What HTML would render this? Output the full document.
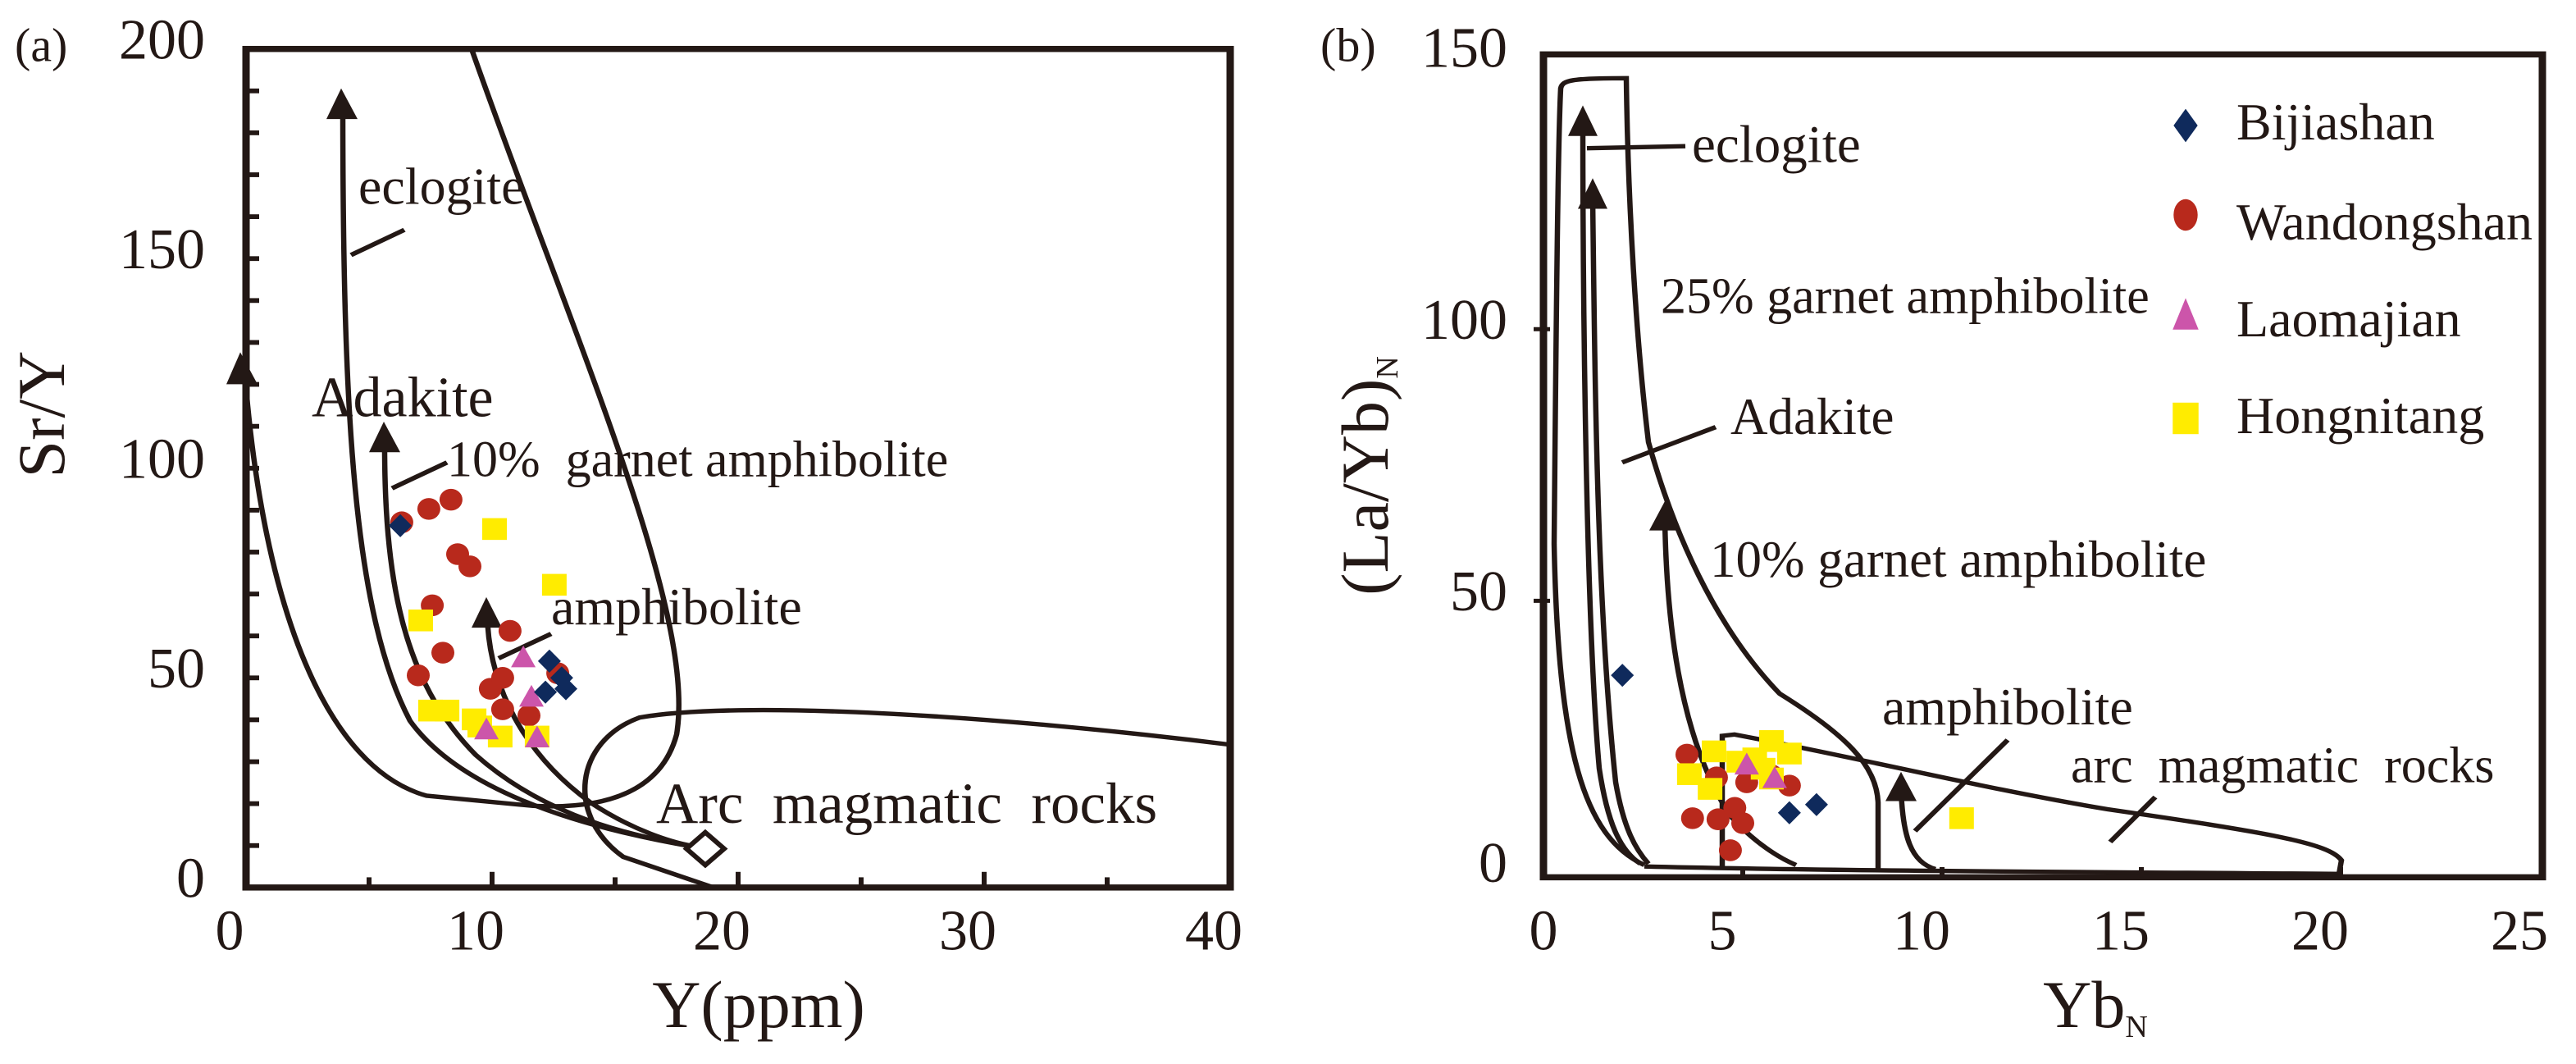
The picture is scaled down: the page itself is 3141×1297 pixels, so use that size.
<!DOCTYPE html>
<html><head><meta charset="utf-8"><style>
html,body{margin:0;padding:0;background:#fff;overflow:hidden;}
svg{display:block;font-family:"Liberation Serif",serif;}
</style></head><body>
<svg id="chart" width="3141" height="1297" viewBox="0 0 3141 1297" xmlns="http://www.w3.org/2000/svg">
<rect width="3141" height="1297" fill="#fff"/>
<g id="root" transform="scale(1,0.829)">
<!-- Panel (a) -->
<g id="pa" fill="none" stroke="#231815" stroke-width="6.5">
  <path d="M1500,1095 C1200,1050 900,1030 780,1055 C700,1090 690,1200 760,1260 L870,1305"/>
  <path d="M575,72 C700,500 850,900 825,1080 C805,1170 730,1190 650,1185 L520,1170 C400,1130 320,900 298,540"/>
  <path d="M418,150 C418,600 430,900 500,1060 C560,1160 700,1215 845,1245"/>
  <path d="M469,640 C468,850 490,1000 580,1110 C650,1185 740,1225 850,1245"/>
  <path d="M594,900 C595,1010 640,1110 720,1180 C770,1220 820,1240 850,1245"/>
  <path d="M428,375 L493,338"/>
  <path d="M478,718 L545,680"/>
  <path d="M608,968 L672,932"/>
  <g fill="#231815" stroke="none">
    <path d="M416,130 L398,175 L436,175 Z"/>
    <path d="M293,518 L276,565 L314,565 Z"/>
    <path d="M468,620 L450,665 L488,665 Z"/>
    <path d="M593,878 L575,923 L612,923 Z"/>
  </g>
  <path d="M860,1224 L883,1248 L860,1272 L837,1248 Z" fill="#fff"/>
  <rect x="300" y="72" width="1200" height="1233" stroke-width="9"/>
</g>
<g id="pa-pts"></g>
<g id="pa-axes" font-size="70" fill="#231815"></g>
<g fill="#231815">
  <text x="18" y="90" font-size="58">(a)</text>
  <text x="437" y="300" font-size="64">eclogite</text>
  <text x="380" y="612" font-size="70">Adakite</text>
  <text x="545" y="700" font-size="62" xml:space="preserve">10%  garnet amphibolite</text>
  <text x="672" y="918" font-size="64">amphibolite</text>
  <text x="800" y="1210" font-size="71" xml:space="preserve">Arc  magmatic  rocks</text>
  <text x="925" y="1510" font-size="82" text-anchor="middle">Y(ppm)</text>
</g>
<!-- Panel (b) -->
<g id="pb" fill="none" stroke="#231815" stroke-width="6.5">
  <path d="M2005,1272 C1930,1230 1900,1100 1895,800 C1898,400 1900,200 1903,130 C1905,118 1915,115 1983,115 C1985,300 1995,500 2010,650 C2040,780 2090,920 2170,1020 C2250,1080 2288,1125 2290,1180 L2290,1280"/>
  <path d="M2100,1278 L2100,1082 L2115,1080 C2270,1115 2420,1160 2570,1190 C2770,1225 2840,1240 2855,1265 L2852,1285 C2500,1282 2200,1280 2005,1274"/>
  <path d="M1930,180 C1930,400 1933,900 1950,1130 C1960,1210 1975,1250 2000,1270"/>
  <path d="M1942,290 C1945,600 1948,900 1970,1150 C1980,1220 1995,1250 2010,1270"/>
  <path d="M2030,765 C2032,900 2045,1080 2110,1200 C2140,1240 2170,1262 2190,1272"/>
  <path d="M2318,1160 C2320,1230 2330,1268 2360,1278"/>
  <path d="M1935,218 L2055,215"/>
  <path d="M1978,680 L2092,628"/>
  <path d="M2335,1222 L2448,1088"/>
  <path d="M2573,1238 L2628,1172"/>
  <g fill="#231815" stroke="none">
    <path d="M1930,155 L1912,200 L1948,200 Z"/>
    <path d="M1942,262 L1924,307 L1960,307 Z"/>
    <path d="M2030,737 L2011,780 L2049,780 Z"/>
    <path d="M2318,1135 L2299,1178 L2337,1178 Z"/>
  </g>
  <rect x="1882" y="80" width="1218" height="1210" stroke-width="9"/>
</g>
<g id="pb-pts"></g>
<g id="pb-axes" font-size="70" fill="#231815"></g>
<g fill="#231815">
  <text x="1610" y="90" font-size="58">(b)</text>
  <text x="2063" y="238" font-size="65">eclogite</text>
  <text x="2025" y="460" font-size="62">25% garnet amphibolite</text>
  <text x="2110" y="638" font-size="63">Adakite</text>
  <text x="2085" y="848" font-size="63">10% garnet amphibolite</text>
  <text x="2295" y="1065" font-size="64">amphibolite</text>
  <text x="2525" y="1150" font-size="62" xml:space="preserve">arc  magmatic  rocks</text>
  <text x="2555" y="1510" font-size="82" text-anchor="middle">Yb<tspan font-size="38" dy="12">N</tspan></text>
</g>
</g>
<text transform="translate(78,505) rotate(-90)" font-size="82" text-anchor="middle" fill="#231815">Sr/Y</text>
<text transform="translate(1692,580) rotate(-90)" font-size="82" text-anchor="middle" fill="#231815">(La/Yb)<tspan font-size="38" dy="12">N</tspan></text>
<g id="legend" font-size="64" fill="#231815"></g>
<script>
// ---------- data ----------
const aXTicks = [0, 10, 20, 30, 40];
const aYTicks = [0, 50, 100, 150, 200];
const bXTicks = [0, 5, 10, 15, 20, 25];
const bYTicks = [0, 50, 100, 150];
const seriesNames = ["Bijiashan", "Wandongshan", "Laomajian", "Hongnitang"];

const aBijiashanX = [6.27, 12.33, 12.17, 13.0, 12.83];
const aBijiashanY = [86.3, 54.0, 46.6, 47.4, 50.0];
const aWandongX = [6.33, 7.43, 8.33, 8.6, 9.1, 7.57, 8.0, 7.0, 9.93, 10.43, 10.73, 10.43, 11.5, 12.67];
const aWandongY = [87.1, 90.3, 92.5, 79.5, 76.6, 67.3, 56.0, 50.6, 47.4, 50.0, 61.2, 42.5, 41.0, 51.1];
const aLaomajianX = [11.27, 11.6, 9.77, 11.83];
const aLaomajianY = [54.8, 45.4, 37.6, 35.7];
const aHongX = [10.1, 12.53, 7.1, 7.5, 8.17, 9.27, 10.33, 11.83, 9.5];
const aHongY = [85.5, 72.2, 63.7, 42.2, 42.2, 40.1, 36.0, 36.0, 38.4];

const bBijiashanX = [1.98, 6.17, 6.85];
const bBijiashanY = [36.3, 11.0, 12.5];
const bWandongX = [3.6, 3.74, 4.34, 4.38, 4.8, 5.0, 4.69, 5.1, 6.17, 5.72];
const bWandongY = [21.7, 10.0, 17.5, 9.8, 11.9, 9.1, 4.1, 16.6, 16.0, 17.9];
const bLaomajianX = [5.1, 5.8];
const bLaomajianY = [19.8, 17.3];
const bHongX = [3.66, 4.28, 4.18, 4.9, 5.3, 5.72, 6.17, 5.51, 5.72, 10.49];
const bHongY = [18.1, 22.3, 15.4, 20.4, 21.0, 24.2, 21.9, 19.1, 17.3, 10.0];

// ---------- scales (inside vertically-scaled root group) ----------
const K = 0.829;
const ax = v => 300 + v * 30;
const ay = v => 1305 - v * 6.165;
const bx = v => 1882 + v * 48.6;
const by = v => 1283 - v * 7.99;
const NS = "http://www.w3.org/2000/svg";
function mk(tag, attrs, parent) {
  const e = document.createElementNS(NS, tag);
  for (const k in attrs) e.setAttribute(k, attrs[k]);
  parent.appendChild(e);
  return e;
}
function marker(kind, x, y, parent, s, sy) {
  let e;
  const t = sy || s;
  if (kind === 0) e = mk("path", {d: `M${x},${y-17*t} L${x+14*s},${y} L${x},${y+17*t} L${x-14*s},${y} Z`, fill: "#0f2a5c"}, parent);
  else if (kind === 1) e = mk("ellipse", {cx: x, cy: y, rx: 14*s, ry: 16*t, fill: "#b8291c"}, parent);
  else if (kind === 2) e = mk("path", {d: `M${x},${y-18*t} L${x+15*s},${y+14*t} L${x-15*s},${y+14*t} Z`, fill: "#cc55aa"}, parent);
  else e = mk("rect", {x: x-15*s, y: y-16*t, width: 30*s, height: 32*t, fill: "#ffec00"}, parent);
  return e;
}
function plotSeries(xs, ys, kind, sx, sy, parent) {
  for (let i = 0; i < xs.length; i++) {
    const m = marker(kind, sx(xs[i]), sy(ys[i]), parent, 1);
    
    
  }
}
const pa = document.getElementById("pa-pts");
plotSeries(aWandongX, aWandongY, 1, ax, ay, pa);
plotSeries(aHongX, aHongY, 3, ax, ay, pa);
plotSeries(aLaomajianX, aLaomajianY, 2, ax, ay, pa);
plotSeries(aBijiashanX, aBijiashanY, 0, ax, ay, pa);
const pb = document.getElementById("pb-pts");
plotSeries(bWandongX, bWandongY, 1, bx, by, pb);
plotSeries(bHongX, bHongY, 3, bx, by, pb);
plotSeries(bLaomajianX, bLaomajianY, 2, bx, by, pb);
plotSeries(bBijiashanX, bBijiashanY, 0, bx, by, pb);

// ---------- axes ----------
const gA = document.getElementById("pa-axes");
aXTicks.forEach(v => {
  const t = mk("text", {x: ax(v) - 20, y: 1396, "text-anchor": "middle"}, gA);
  t.textContent = v;
  
  
});
for (let v = 5; v < 40; v += 5) {
  const l = mk("line", {x1: ax(v), x2: ax(v), y1: 1305, y2: (v % 10 === 0 ? 1282 : 1290), stroke: "#231815", "stroke-width": 6}, gA);
  
  
}
aYTicks.forEach(v => {
  const t = mk("text", {x: 250, y: ay(v) + 14, "text-anchor": "end"}, gA);
  t.textContent = v;
  
  
});
for (let v = 10; v < 200; v += 10) {
  const l = mk("line", {x1: 300, x2: 316, y1: ay(v), y2: ay(v), stroke: "#231815", "stroke-width": 7}, gA);
  
  
}
const gB = document.getElementById("pb-axes");
bXTicks.forEach(v => {
  const t = mk("text", {x: bx(v) - (v === 0 ? 0 : 25), y: 1396, "text-anchor": "middle"}, gB);
  t.textContent = v;
  
  
  if (v > 0 && v < 25) {
    const l = mk("line", {x1: bx(v), x2: bx(v), y1: 1290, y2: 1275, stroke: "#231815", "stroke-width": 6}, gB);
    
    
  }
});
bYTicks.forEach(v => {
  const t = mk("text", {x: 1838, y: by(v) + 14, "text-anchor": "end"}, gB);
  t.textContent = v;
  
  
  if (v > 0 && v < 150) {
    const l = mk("line", {x1: 1870, x2: 1890, y1: by(v), y2: by(v), stroke: "#231815", "stroke-width": 6}, gB);
    
    
  }
});

// undo vertical squash on glyphs inside root (positions stay scaled)
document.querySelectorAll("#root text").forEach(t => {
  const y = parseFloat(t.getAttribute("y"));
  t.setAttribute("transform", `translate(0,${y}) scale(1,${1/K}) translate(0,${-y})`);
});

// ---------- legend (outside scaled group) ----------
const gL = document.getElementById("legend");
const legMarkY = [153, 262, 385, 510];
const legTextY = [170, 292, 410, 528];
seriesNames.forEach((n, i) => {
  const m = marker(i, 2665, legMarkY[i], gL, 1.05, 1.2);
  
  
  const t = mk("text", {x: 2727, y: legTextY[i]}, gL);
  t.textContent = n;
  
  
});
</script>
</svg>
</body></html>
